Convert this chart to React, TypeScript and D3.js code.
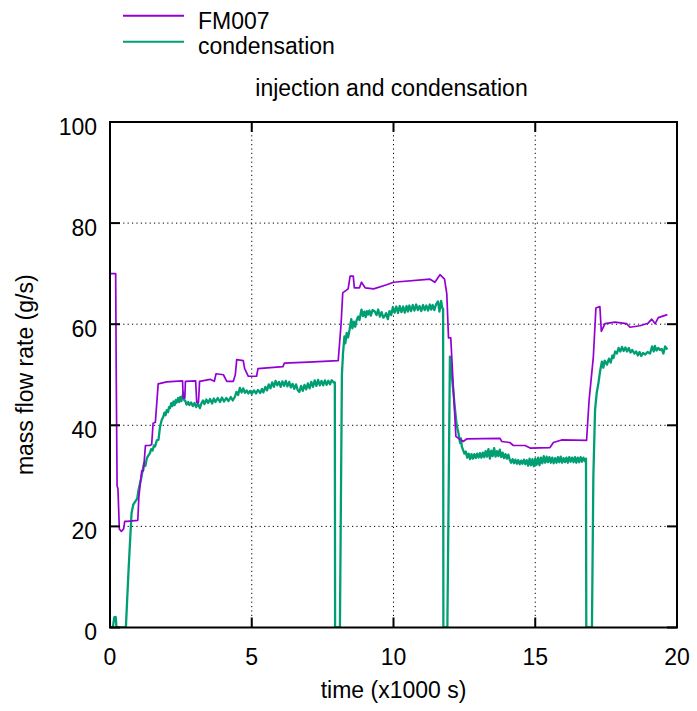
import React from "react";
import * as d3 from "d3";

const xTicks = [0, 5, 10, 15, 20];
const yTicks = [0, 20, 40, 60, 80, 100];
const seriesNames = ["FM007", "condensation"];
const seriesColors = ["#9400d3", "#009e73"];

// FM007 injection (time x1000 s, g/s)
const fm007: [number, number][] = [
  [0, 70], [0.2, 70], [0.22, 50], [0.25, 28], [0.28, 27.5], [0.33, 19.5], [0.4, 19], [0.48, 19.5], [0.52, 21],
  [0.6, 21], [0.98, 21.2], [1.02, 26], [1.12, 31], [1.18, 31], [1.25, 36], [1.4, 36], [1.47, 36.2],
  [1.52, 40.4], [1.6, 40.6], [1.7, 48.2], [2.0, 48.6], [2.56, 48.8], [2.58, 45.4], [2.64, 45.4],
  [2.66, 48.7], [3.02, 48.8], [3.06, 44.5], [3.12, 44.5], [3.16, 48.7], [3.53, 49.1], [3.68, 48.7],
  [3.74, 50.2], [4.0, 50.0], [4.12, 48.7], [4.35, 48.7], [4.42, 50], [4.47, 53.0], [4.7, 52.8],
  [4.75, 51.2], [4.88, 49.7], [5.17, 49.7], [5.22, 51.2], [6.1, 51.6], [6.15, 52.3], [7.0, 52.5],
  [8.05, 52.8], [8.15, 60], [8.21, 66.2], [8.4, 67], [8.47, 69.5], [8.58, 69.5], [8.62, 67.2],
  [8.8, 67.2], [8.87, 68.3], [9.0, 67.2], [9.3, 67.0], [9.76, 67.8], [10.0, 68.3], [11.29, 68.9],
  [11.46, 68.3], [11.64, 69.8], [11.8, 68.9], [11.88, 66], [11.94, 57.3], [12.02, 57.3], [12.2, 37.8],
  [12.35, 37.2], [12.46, 36.8], [12.58, 37.3], [13.76, 37.4], [13.82, 36.8], [14.1, 36.6], [14.23, 36.0],
  [14.64, 36.0], [14.82, 35.5], [15.52, 35.6], [15.64, 36.6], [15.93, 37.1], [16.81, 37.0], [16.9, 45],
  [17.05, 53.6], [17.14, 63.2], [17.28, 63.5], [17.33, 58.6], [17.46, 60.1], [17.81, 60.4], [18.22, 60.1],
  [18.34, 59.4], [18.69, 59.7], [18.98, 60.2], [19.11, 61.0], [19.23, 60.1], [19.34, 61.3], [19.66, 61.9],
];

// condensation (time x1000 s, g/s)
const condensation: [number, number][] = [
  [0, 0], [0.1, 0], [0.15, 2], [0.2, 2.1], [0.23, 0], [0.56, 0],
  [0.66, 12], [0.76, 22.6], [0.82, 24.3], [0.9, 25], [0.96, 25.5], [1.0, 27], [1.06, 28.6], [1.1, 29.5],
  [1.15, 31], [1.2, 32.5], [1.25, 32], [1.3, 33.5], [1.35, 34], [1.41, 34.5], [1.45, 35.3], [1.5, 35],
  [1.55, 36], [1.59, 35.8], [1.65, 37], [1.71, 37.1], [1.76, 39.5], [1.82, 41], [1.88, 41.7], [1.92, 42.5],
  [1.96, 42], [2.0, 43], [2.05, 42.6], [2.08, 43.6], [2.12, 43.4], [2.16, 44.4], [2.2, 43.8], [2.24, 44.7],
  [2.28, 44], [2.32, 45], [2.35, 44.5], [2.4, 45.4], [2.44, 44.6], [2.48, 45.6], [2.52, 44.8], [2.56, 45.8],
  [2.59, 46.5], [2.62, 45], [2.66, 44.8], [2.7, 44.1], [2.76, 44.6], [2.8, 44], [2.86, 44.5], [2.92, 43.8],
  [2.98, 44.4], [3.04, 43.6], [3.1, 44.3], [3.17, 43.4], [3.22, 44.3], [3.28, 44.9], [3.33, 44.2], [3.4, 45.1],
  [3.46, 44.4], [3.53, 45.2], [3.6, 44.3], [3.66, 45.3], [3.72, 44.6], [3.8, 45.4], [3.88, 44.6], [3.95, 45.5],
  [4.02, 44.7], [4.1, 45.4], [4.18, 44.8], [4.26, 45.6], [4.33, 44.9], [4.41, 45.7], [4.46, 46.6], [4.52, 46],
  [4.58, 47.4], [4.64, 46.5], [4.7, 47.3], [4.76, 46.4], [4.82, 46.9], [4.88, 46.3], [4.94, 46.8], [5.0, 46.2],
  [5.08, 46.9], [5.15, 46.3], [5.22, 47], [5.3, 46.4], [5.36, 47.2], [5.41, 46.5], [5.48, 47.6], [5.54, 46.9],
  [5.6, 48.1], [5.66, 47.3], [5.72, 48.5], [5.78, 47.6], [5.84, 48.8], [5.9, 47.9], [5.96, 48.6], [6.02, 47.6],
  [6.08, 48.7], [6.14, 47.8], [6.2, 48.8], [6.26, 47.7], [6.32, 48.6], [6.38, 47.5], [6.44, 48.2], [6.5, 47.2],
  [6.56, 48.1], [6.62, 47.0], [6.68, 46.6], [6.74, 47.8], [6.8, 46.8], [6.86, 48.0], [6.92, 47.1], [6.98, 48.3],
  [7.04, 47.3], [7.1, 48.6], [7.16, 47.6], [7.22, 48.9], [7.28, 47.8], [7.34, 49.0], [7.4, 47.9], [7.46, 48.8],
  [7.52, 47.9], [7.58, 48.9], [7.64, 48.0], [7.7, 48.8], [7.76, 48.1], [7.82, 48.9], [7.9, 48.4], [7.93, 48.5],
  [7.94, 0], [8.11, 0], [8.18, 50], [8.22, 54.3], [8.27, 57.6], [8.3, 56.2], [8.35, 58.3], [8.4, 57.4],
  [8.45, 58.9], [8.51, 61.0], [8.55, 59.2], [8.6, 60.5], [8.65, 59.5], [8.69, 60.6], [8.75, 61.5], [8.8, 60.8],
  [8.87, 62.9], [8.92, 61.6], [8.97, 62.5], [9.02, 61.4], [9.06, 62.6], [9.1, 61.9], [9.15, 62.7], [9.2, 61.7],
  [9.26, 62.8], [9.34, 62.5], [9.4, 61.8], [9.46, 62.9], [9.52, 61.5], [9.58, 62.4], [9.64, 61.3], [9.69, 61.6],
  [9.74, 62.2], [9.8, 61.0], [9.86, 62.6], [9.92, 61.8], [9.98, 63.4], [10.04, 62.3], [10.1, 63.5], [10.16, 62.2],
  [10.22, 63.6], [10.28, 62.4], [10.34, 63.5], [10.4, 62.3], [10.46, 63.6], [10.51, 62.5], [10.56, 63.7],
  [10.62, 62.6], [10.68, 63.8], [10.74, 62.7], [10.8, 63.9], [10.86, 62.8], [10.92, 63.6], [10.98, 62.6],
  [11.04, 63.8], [11.1, 62.8], [11.16, 63.7], [11.22, 62.7], [11.28, 63.9], [11.33, 62.9], [11.38, 63.8],
  [11.44, 62.8], [11.5, 63.9], [11.57, 64.5], [11.62, 62.5], [11.68, 64.6], [11.72, 63.2], [11.75, 63.0],
  [11.76, 0], [11.9, 0], [11.99, 53.6], [12.08, 48.5], [12.17, 43.1], [12.23, 40], [12.29, 38.5], [12.35, 36.5],
  [12.38, 37.4], [12.41, 35.8], [12.45, 35.2], [12.5, 34.4], [12.55, 34.8], [12.6, 33.6], [12.65, 34.4],
  [12.7, 33.3], [12.75, 34.3], [12.8, 33.4], [12.85, 34.3], [12.9, 33.5], [12.95, 34.4], [13.0, 33.6],
  [13.05, 34.5], [13.1, 33.6], [13.15, 34.6], [13.2, 33.7], [13.25, 34.9], [13.3, 33.8], [13.35, 35.3],
  [13.4, 33.4], [13.45, 35.0], [13.5, 33.9], [13.55, 35.5], [13.6, 33.8], [13.65, 34.9], [13.7, 33.9],
  [13.75, 35.2], [13.8, 33.7], [13.85, 34.6], [13.9, 33.5], [13.95, 34.3], [14.0, 33.4], [14.05, 34.2],
  [14.1, 33.2], [14.15, 32.6], [14.2, 33.3], [14.25, 32.5], [14.3, 33.2], [14.35, 32.4], [14.4, 33.1],
  [14.45, 32.3], [14.5, 33.0], [14.55, 32.4], [14.6, 33.2], [14.65, 32.3], [14.7, 33.1], [14.75, 32.0],
  [14.8, 33.4], [14.85, 32.1], [14.9, 33.3], [14.95, 31.9], [15.0, 33.4], [15.05, 32.2], [15.1, 33.6],
  [15.15, 32.1], [15.2, 33.6], [15.25, 32.5], [15.3, 33.9], [15.35, 32.6], [15.4, 33.8], [15.45, 32.7],
  [15.5, 33.7], [15.55, 32.6], [15.6, 33.6], [15.65, 32.5], [15.7, 33.5], [15.75, 32.6], [15.8, 33.7],
  [15.85, 32.7], [15.9, 33.8], [15.95, 32.6], [16.0, 33.5], [16.05, 32.7], [16.1, 33.6], [16.15, 32.6],
  [16.2, 33.7], [16.25, 32.8], [16.3, 33.6], [16.35, 32.7], [16.4, 33.7], [16.45, 32.6], [16.5, 33.6],
  [16.55, 32.7], [16.6, 33.7], [16.65, 32.8], [16.7, 33.6], [16.75, 32.9], [16.79, 33.4],
  [16.8, 0], [17.0, 0], [17.05, 30], [17.11, 43.1], [17.17, 46.5], [17.23, 48.4], [17.29, 50.8], [17.35, 52.6],
  [17.4, 51.4], [17.45, 52.8], [17.53, 52.0], [17.6, 53.2], [17.66, 52.4], [17.72, 53.8], [17.76, 53.3],
  [17.82, 54.6], [17.88, 54.2], [17.94, 55.3], [18.0, 54.6], [18.06, 55.5], [18.12, 54.7], [18.18, 55.4],
  [18.24, 54.6], [18.3, 55.3], [18.36, 54.4], [18.42, 54.9], [18.5, 54.2], [18.56, 54.6], [18.62, 53.8],
  [18.68, 54.5], [18.74, 53.7], [18.8, 54.3], [18.88, 54.0], [18.96, 54.5], [19.05, 54.2], [19.12, 55.6],
  [19.18, 54.6], [19.22, 55.7], [19.28, 54.8], [19.34, 55.3], [19.4, 54.9], [19.46, 55.1], [19.52, 54.2],
  [19.58, 55.6], [19.66, 55.0],
];

const W = 697;
const H = 711;
const left = 110;
const right = 677;
const top = 122;
const bottom = 627.5;
const FONT = "'Liberation Sans', Arial, Helvetica, sans-serif";
const FS = 23;

export default function App() {
  const x = d3.scaleLinear().domain([0, 20]).range([left, right]);
  const y = d3.scaleLinear().domain([0, 100]).range([bottom, top]);
  const line = d3
    .line<[number, number]>()
    .x((d) => x(d[0]))
    .y((d) => y(d[1]));
  const tickLen = 10;

  return (
    <svg width={W} height={H} style={{ position: "absolute", left: 0, top: 0, background: "#fff" }}>
      <rect x={0} y={0} width={W} height={H} fill="#fff" />
      <g stroke="#000" strokeWidth={1} strokeDasharray="1.2,3.2">
        {xTicks.slice(1, -1).map((t) => (
          <line key={"gx" + t} x1={x(t)} x2={x(t)} y1={top} y2={bottom} />
        ))}
        {yTicks.slice(1, -1).map((t) => (
          <line key={"gy" + t} x1={left} x2={right} y1={y(t)} y2={y(t)} />
        ))}
      </g>
      <defs>
        <clipPath id="plotclip">
          <rect x={left} y={top} width={right - left} height={bottom - top} />
        </clipPath>
      </defs>
      <g clipPath="url(#plotclip)" fill="none" strokeLinejoin="round">
        <path d={line(condensation) || ""} stroke={seriesColors[1]} strokeWidth={2.3} />
        <path d={line(fm007) || ""} stroke={seriesColors[0]} strokeWidth={1.7} />
      </g>
      <g stroke="#000" strokeWidth={2}>
        {xTicks.map((t) => (
          <g key={"tx" + t}>
            <line x1={x(t)} x2={x(t)} y1={bottom} y2={bottom - tickLen} />
            <line x1={x(t)} x2={x(t)} y1={top} y2={top + tickLen} />
          </g>
        ))}
        {yTicks.map((t) => (
          <g key={"ty" + t}>
            <line x1={left} x2={left + tickLen} y1={y(t)} y2={y(t)} />
            <line x1={right} x2={right - tickLen} y1={y(t)} y2={y(t)} />
          </g>
        ))}
      </g>
      <rect x={left} y={top} width={right - left} height={bottom - top} fill="none" stroke="#000" strokeWidth={2} />
      <g fontFamily={FONT} fontSize={FS} fill="#000">
        {xTicks.map((t) => (
          <text key={"lx" + t} x={x(t)} y={665} textAnchor="middle">
            {t}
          </text>
        ))}
        {yTicks.map((t) => (
          <text key={"ly" + t} x={97} y={y(t) + 12.5} textAnchor="end">
            {t}
          </text>
        ))}
        <text x={(left + right) / 2} y={698} textAnchor="middle">
          time (x1000 s)
        </text>
        <text transform={`translate(33, ${(top + bottom) / 2}) rotate(-90)`} textAnchor="middle">
          mass flow rate (g/s)
        </text>
        <text x={391.5} y={96} textAnchor="middle">
          injection and condensation
        </text>
        {seriesNames.map((n, i) => (
          <g key={n}>
            <line x1={123} x2={184} y1={15.7 + i * 26} y2={15.7 + i * 26} stroke={seriesColors[i]} strokeWidth={2} />
            <text x={198} y={28.5 + i * 25.5}>
              {n}
            </text>
          </g>
        ))}
      </g>
    </svg>
  );
}
